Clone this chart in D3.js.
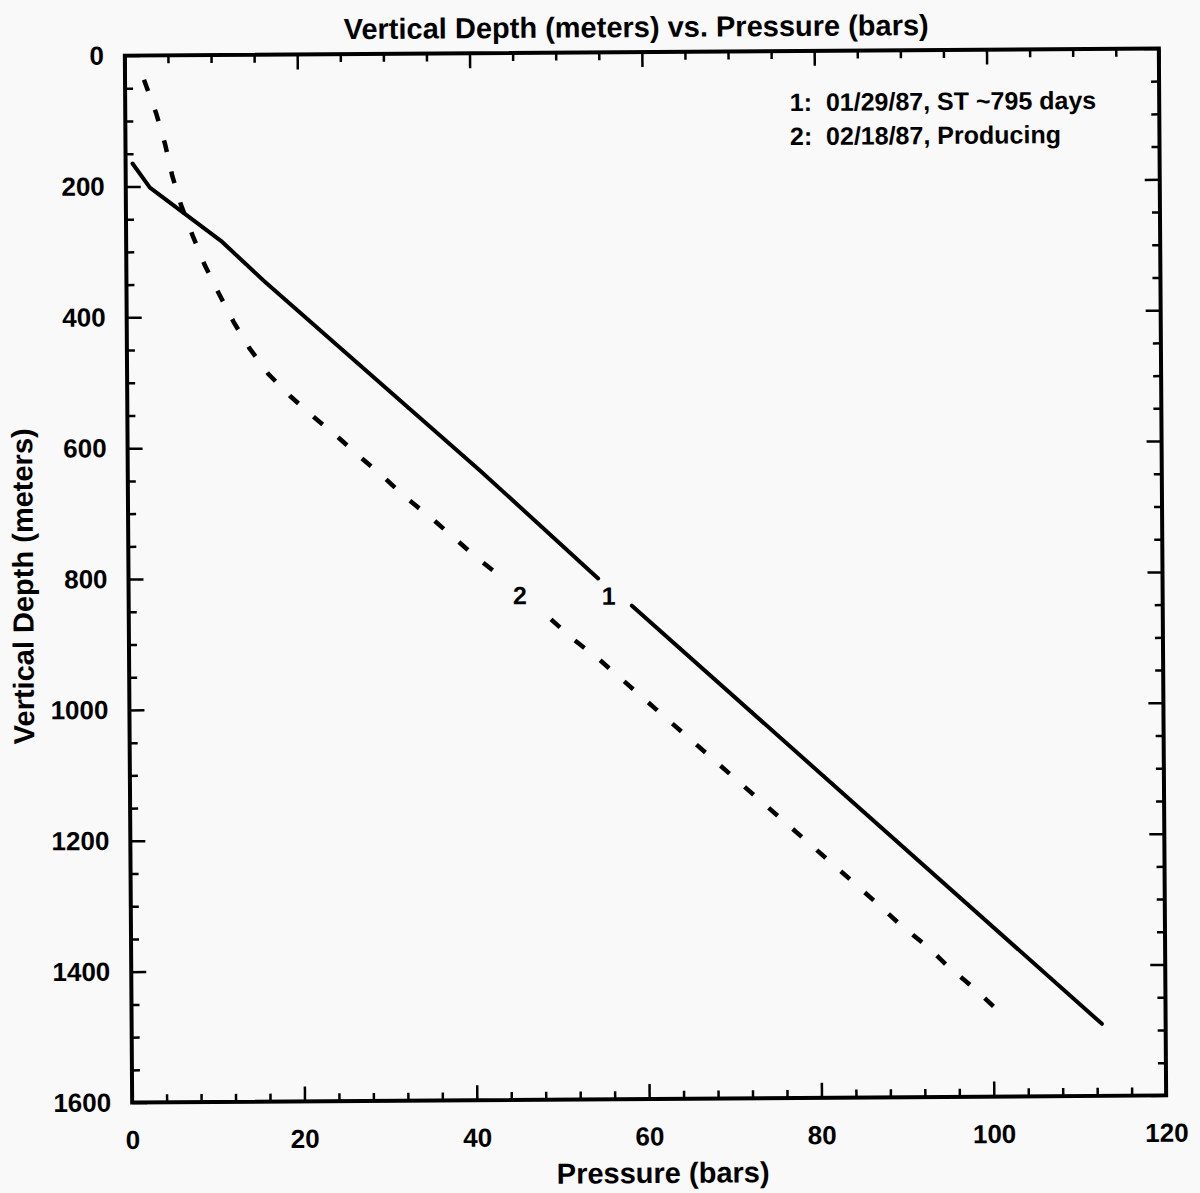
<!DOCTYPE html>
<html>
<head>
<meta charset="utf-8">
<script src="https://cdn.jsdelivr.net/npm/d3@7"></script>
<style>
  body { margin: 0; background: #f8f9f8; }
  svg text {
    font-family: "Liberation Sans", Arial, Helvetica, sans-serif;
    font-weight: bold;
    fill: #000;
  }
</style>
</head>
<body>
<div id="chart"></div>
<script>
// Curve 1: 01/29/87, shut in ~795 days (solid). null leaves the gap for label "1".
const pressure1 = [0.8, 2.8, 11.0, 15.9, 40.9, 54.5, null, 58.4, 112.6];
const depth1 = [165, 202, 284, 345, 638, 804, null, 846, 1490];

// Curve 2: 02/18/87, producing (dashed). null leaves the gap for label "2".
const pressure2 = [2.2, 3.6, 4.6, 5.4, 6.4, 7.7, 9.1, 10.7, 12.4, 14.2, 16.4, 18.9,
  21.6, 24.4, 27.0, 29.7, 32.4, 35.2, 40.7, 43.3, null, 49.0, 51.7, 54.4,
  81.5, 84.2, 86.9, 89.5, 92.4, 94.9, 97.7, 100.9];
const depth2 = [37, 89, 136, 184, 229, 275, 321, 364, 408, 448, 488, 522,
  554, 585, 616, 647, 680, 710, 774, 801, null, 866, 898, 926,
  1243, 1275, 1307, 1339, 1370, 1402, 1433, 1473];

// In-plot curve labels
const curveLabels = ["1", "2"];
const curveLabelPressure = [55.7, 45.4];
const curveLabelDepth = [831, 829];

const legendLines = ["1:  01/29/87, ST ~795 days", "2:  02/18/87, Producing"];

// Tick values
const xMajorTicks = [0, 20, 40, 60, 80, 100, 120];
const xMinorTicksBottom = [4, 8, 12, 16, 24, 28, 32, 36, 44, 48, 52, 56, 64, 68, 72, 76,
  84, 88, 92, 96, 104, 108, 112, 116];
const xMinorTicksTop = [5, 10, 15, 25, 30, 35, 45, 50, 55, 65, 70, 75, 85, 90, 95,
  105, 110, 115];
const yMajorTicks = [0, 200, 400, 600, 800, 1000, 1200, 1400, 1600];
const yMinorTicks = [50, 100, 150, 250, 300, 350, 450, 500, 550, 650, 700, 750,
  850, 900, 950, 1050, 1100, 1150, 1250, 1300, 1350, 1450, 1500, 1550];

function depthChart(chartLocation, width, height) {
  const svg = d3.select(chartLocation).append("svg")
    .attr("width", width)
    .attr("height", height);

  // The scanned original is tilted a little; tilt the whole figure the same way.
  const root = svg.append("g")
    .attr("transform", "rotate(-0.4, 645, 576)");

  const left = 128.5, right = 1162.5, top = 52, bottom = 1099;

  const x = d3.scaleLinear().domain([0, 120]).range([left, right]);
  const y = d3.scaleLinear().domain([0, 1600]).range([top, bottom]);

  // Title
  root.append("text")
    .attr("x", 640).attr("y", 37)
    .attr("text-anchor", "middle")
    .style("font-size", "29px")
    .text("Vertical Depth (meters) vs. Pressure (bars)");

  // Inward ticks on all four sides
  function ticks(axis, values, size, label) {
    return axis.tickValues(values)
      .tickSize(-size)
      .tickFormat(label ? d3.format("d") : "");
  }

  const bottomMajor = root.append("g")
    .attr("transform", `translate(0,${bottom})`)
    .call(ticks(d3.axisBottom(x), xMajorTicks, 15, true).tickPadding(28));
  root.append("g")
    .attr("transform", `translate(0,${bottom})`)
    .call(ticks(d3.axisBottom(x), xMinorTicksBottom, 8, false));
  root.append("g")
    .attr("transform", `translate(0,${top})`)
    .call(ticks(d3.axisTop(x), xMajorTicks, 15, false));
  root.append("g")
    .attr("transform", `translate(0,${top})`)
    .call(ticks(d3.axisTop(x), xMinorTicksTop, 8, false));

  root.append("g")
    .attr("transform", `translate(${left},0)`)
    .call(ticks(d3.axisLeft(y), yMajorTicks, 15, true).tickPadding(21));
  root.append("g")
    .attr("transform", `translate(${left},0)`)
    .call(ticks(d3.axisLeft(y), yMinorTicks, 8, false));
  root.append("g")
    .attr("transform", `translate(${right},0)`)
    .call(ticks(d3.axisRight(y), yMajorTicks, 15, false));
  root.append("g")
    .attr("transform", `translate(${right},0)`)
    .call(ticks(d3.axisRight(y), yMinorTicks, 8, false));

  root.selectAll(".domain").remove();
  root.selectAll(".tick line").attr("stroke", "#000").attr("stroke-width", 2.5);
  root.selectAll(".tick text")
    .style("font-size", "26px")
    .style("font-family", "'Liberation Sans', Arial, sans-serif");
  bottomMajor.selectAll("text").attr("dy", "0.71em");

  // Frame
  root.append("rect")
    .attr("x", left).attr("y", top)
    .attr("width", right - left).attr("height", bottom - top)
    .attr("fill", "none")
    .attr("stroke", "#000")
    .attr("stroke-width", 4);

  // Axis titles
  root.append("text")
    .attr("x", 659).attr("y", 1183)
    .attr("text-anchor", "middle")
    .style("font-size", "29px")
    .text("Pressure (bars)");

  root.append("text")
    .attr("transform", "translate(33,582) rotate(-90)")
    .attr("text-anchor", "middle")
    .style("font-size", "29px")
    .text("Vertical Depth (meters)");

  // Curves
  const line = d3.line()
    .defined(d => d[0] !== null)
    .x(d => x(d[0]))
    .y(d => y(d[1]));

  root.append("path")
    .datum(d3.zip(pressure1, depth1))
    .attr("d", line)
    .attr("fill", "none")
    .attr("stroke", "#000")
    .attr("stroke-width", 4)
    .attr("stroke-linejoin", "round")
    .attr("stroke-linecap", "round");

  root.append("path")
    .datum(d3.zip(pressure2, depth2))
    .attr("d", line)
    .attr("fill", "none")
    .attr("stroke", "#000")
    .attr("stroke-width", 4.5)
    .attr("stroke-dasharray", "12 20");

  // Curve labels
  root.selectAll(".curve-label")
    .data(curveLabels)
    .enter().append("text")
    .attr("class", "curve-label")
    .attr("x", (d, i) => x(curveLabelPressure[i]))
    .attr("y", (d, i) => y(curveLabelDepth[i]))
    .attr("dy", "0.35em")
    .attr("text-anchor", "middle")
    .style("font-size", "25px")
    .text(d => d);

  // Legend
  root.selectAll(".legend-line")
    .data(legendLines)
    .enter().append("text")
    .attr("class", "legend-line")
    .attr("x", 793)
    .attr("y", (d, i) => 112 + i * 34)
    .style("font-size", "25px")
    .style("white-space", "pre")
    .text(d => d);
}

depthChart("#chart", 1200, 1193);
</script>
</body>
</html>
